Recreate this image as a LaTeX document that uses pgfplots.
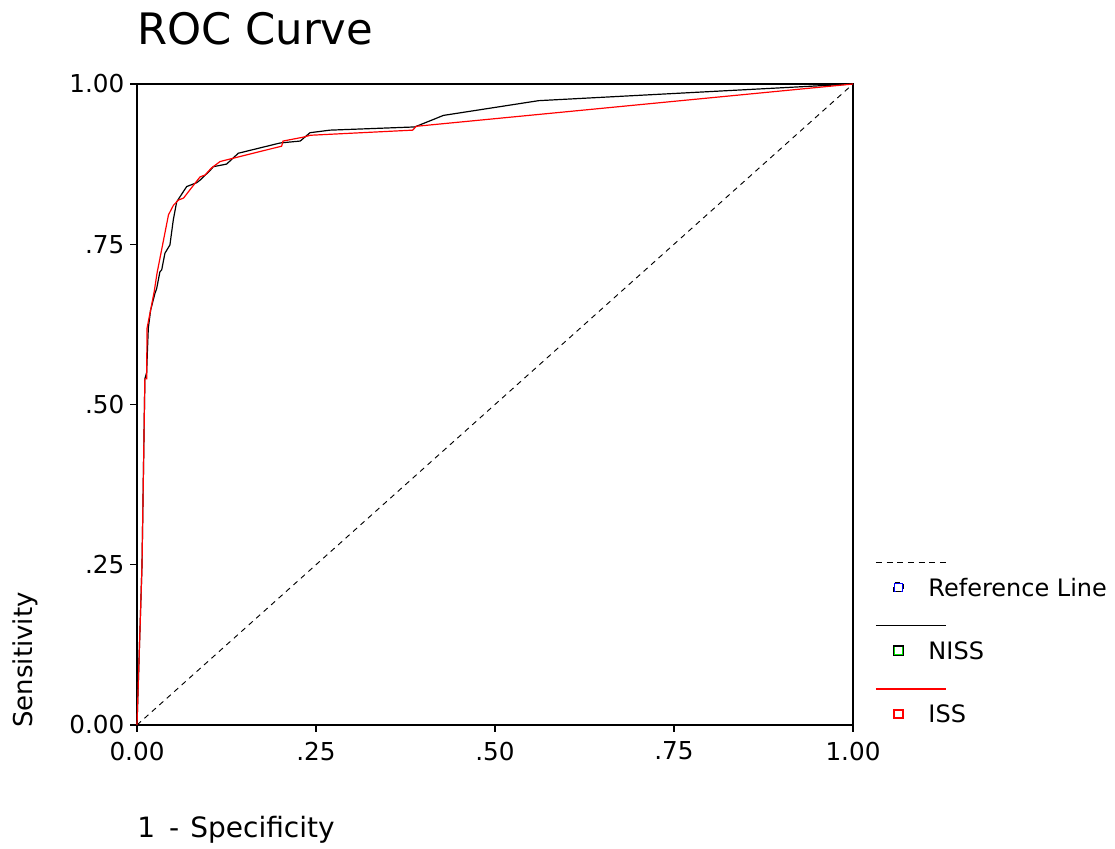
\documentclass[border=0pt]{standalone}
\usepackage{fontspec}
\setmainfont{DejaVu Sans}
\usepackage{pgfplots}
\pgfplotsset{compat=1.18}
\definecolor{sred}{RGB}{255,0,0}
\definecolor{sgreen}{RGB}{0,230,0}
\definecolor{sblue}{RGB}{0,0,255}
\begin{document}
\begin{tikzpicture}
\useasboundingbox (-102.75pt,-93pt) rectangle (733.5pt,543.75pt);
\begin{axis}[
  at={(0,0)}, anchor=south west,
  scale only axis, width=537pt, height=480.75pt,
  xmin=0, xmax=1, ymin=0, ymax=1,
  xtick={0,0.25,0.5,0.75,1}, ytick={0,0.25,0.5,0.75,1},
  xticklabels={0.00,.25,.50,.75,1.00},
  yticklabels={0.00,.25,.50,.75,1.00},
  tick align=outside, major tick length=5pt,
  xtick pos=bottom, ytick pos=left,
  tick style={black, line width=0.8pt},
  axis line style={line width=1pt},
  /pgf/number format/assume math mode=true,
  ticklabel style={font=\fontsize{18.5}{20}\selectfont},
  xticklabel style={yshift=-4pt},
  yticklabel style={xshift=-1pt},
  title={ROC Curve},
  title style={at={(rel axis cs:0,1.0738)}, anchor=west, inner sep=0pt, font=\fontsize{32.5}{35}\selectfont},
  xlabel={1\hspace{0.5em}-\hspace{0.4em}Specificity},
  xlabel style={at={(rel axis cs:0,-0.1638)}, anchor=west, inner sep=0pt, font=\fontsize{21}{23}\selectfont},
  ylabel={Sensitivity},
  ylabel style={at={(rel axis cs:-0.1564,0.1014)}, anchor=center, inner sep=0pt, font=\fontsize{19.5}{21}\selectfont},
  legend style={at={(rel axis cs:1.0559,0.2289)}, anchor=north west, draw=none, fill=none,
    inner sep=0pt, row sep=34.5pt, column sep=18.5pt,
    font=\fontsize{18}{20}\selectfont,
    nodes={inner sep=0pt, text height=13.1pt, text depth=0pt}},
  legend cell align=left,
  clip=false,
]
\addplot[black, line width=0.7pt, dash pattern=on 4pt off 3.5pt,
  legend image code/.code={
    \draw[black, line width=0.9pt, dash pattern=on 4.5pt off 3.5pt, overlay] (-13.5pt,18.75pt) -- (39pt,18.75pt);
    \draw[draw=sblue, fill=white, solid, line width=1.1pt] (0.5pt,-3pt) rectangle (6.5pt,3pt);
    \path (0,-3.5pt) rectangle (7pt,3.5pt);}]
  coordinates {(0,0) (1,1)};
\addlegendentry{Reference Line}
\addplot[black, line width=0.9pt,
  legend image code/.code={
    \draw[black, line width=1.1pt, overlay] (-13.5pt,18.75pt) -- (39pt,18.75pt);
    \draw[draw=sgreen, fill=white, solid, line width=1.1pt] (0.5pt,-3pt) rectangle (6.5pt,3pt);
    \path (0,-3.5pt) rectangle (7pt,3.5pt);}]
  coordinates {
(0,0) (0.007,0.25) (0.011,0.54) (0.0135,0.55) (0.0145,0.582) (0.0158,0.619)
(0.019,0.647) (0.025,0.673) (0.0275,0.681) (0.032,0.707) (0.0345,0.710)
(0.039,0.736) (0.046,0.749) (0.0507,0.788) (0.0554,0.816) (0.060,0.824)
(0.0647,0.832) (0.0694,0.840) (0.0834,0.846) (0.088,0.850) (0.102,0.865)
(0.1066,0.871) (0.125,0.875) (0.130,0.880) (0.1415,0.892) (0.200,0.908)
(0.228,0.911) (0.2416,0.924) (0.2696,0.928) (0.388,0.933) (0.428,0.951)
(0.561,0.974) (1,1)};
\addlegendentry{NISS}
\addplot[sred, line width=0.9pt,
  legend image code/.code={
    \draw[sred, line width=1.1pt, overlay] (-13.5pt,18.75pt) -- (39pt,18.75pt);
    \draw[draw=sred, fill=white, solid, line width=1.1pt] (0.5pt,-3pt) rectangle (6.5pt,3pt);
    \path (0,-3.5pt) rectangle (7pt,3.5pt);}]
  coordinates {
(0,0) (0.007,0.25) (0.011,0.54) (0.0135,0.54) (0.014,0.619) (0.019,0.647)
(0.024,0.676) (0.028,0.705) (0.044,0.796) (0.051,0.811) (0.058,0.819)
(0.065,0.822) (0.074,0.835) (0.088,0.855) (0.095,0.858) (0.104,0.869)
(0.116,0.879) (0.130,0.883) (0.202,0.903) (0.204,0.911) (0.232,0.917)
(0.242,0.920) (0.385,0.928) (0.390,0.934) (1,1)};
\addlegendentry{ISS}
\end{axis}
\end{tikzpicture}
\end{document}
